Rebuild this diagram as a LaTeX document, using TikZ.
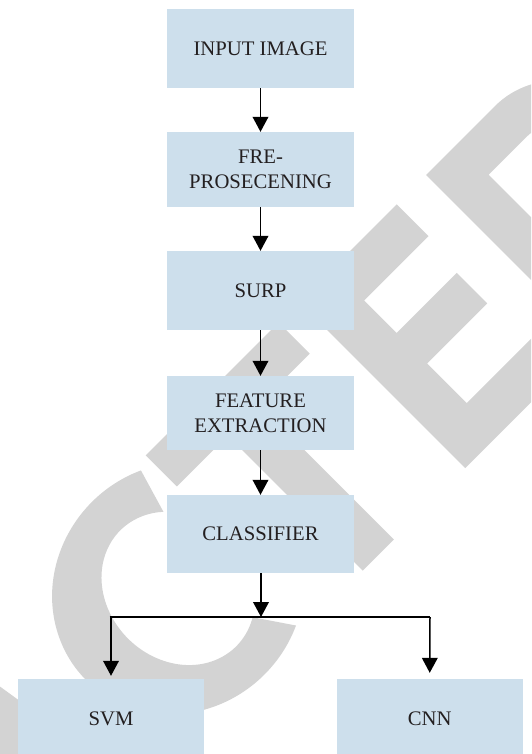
\documentclass[tikz,border=0pt]{standalone}
\usepackage{fontspec}
\setmainfont{Liberation Serif}
\usetikzlibrary{arrows.meta}
\definecolor{boxblue}{HTML}{CDDFEC}
\definecolor{wmgray}{HTML}{D3D3D3}
\definecolor{txtcol}{HTML}{231F20}
\begin{document}
\begin{tikzpicture}[x=1pt,y=1pt,
  box/.style={rectangle, fill=boxblue, minimum width=187pt, inner sep=0pt,
    font=\fontsize{20.7}{24.8}\selectfont, text=txtcol, align=center},
  arr/.style={line width=1.5pt, -{Triangle[width=15.7pt,length=15pt]}},
  bar/.style={line width=2.7pt},
  wm/.style={fill=wmgray}]
\useasboundingbox (0,0) rectangle (531,-754);
\clip (0,0) rectangle (531,-754);
\fill[white] (0,0) rectangle (531,-754);
% watermark letters (A C T E D), drawn in a frame rotated by 45 degrees
\begin{scope}[rotate=45]
  % A (right part)
  \fill[wm] (-640,-660) -- (-585,-425) -- (-495,-425) -- (-458,-660) -- cycle;
  % C
  \fill[wm] (-233,-432.3) arc[start angle=64, end angle=296, x radius=130, y radius=122]
    -- (-257.8,-615.1) arc[start angle=297, end angle=52, x radius=71, y radius=82] -- cycle;
  % T
  \fill[wm] (-219,-425) -- (-31,-425) -- (-31,-469) -- (-103,-469) -- (-103,-660)
    -- (-147,-660) -- (-147,-469) -- (-219,-469) -- cycle;
  % E
  \fill[wm] (-2,-660) -- (-2,-425) -- (136,-425) -- (136,-470) -- (45,-470) -- (45,-516)
    -- (130,-516) -- (130,-559) -- (45,-559) -- (45,-615) -- (140,-615) -- (140,-660) -- cycle;
  % D
  \fill[wm, even odd rule] (177.5,-660) -- (177.5,-425) -- (275,-425)
    arc[start angle=90, end angle=-90, x radius=100, y radius=117.5] -- cycle
    (222,-469) -- (275,-469)
    arc[start angle=90, end angle=-90, x radius=56, y radius=73.5] -- (222,-616) -- cycle;
\end{scope}
% boxes
\node[box, minimum height=79pt] (in)   at (260.5,-48.5) {INPUT IMAGE};
\node[box, minimum height=75pt] (pre)  at (260.5,-169.5) {FRE-\\PROSECENING};
\node[box, minimum height=79pt] (surp) at (260.5,-290.5) {SURP};
\node[box, minimum height=74pt] (feat) at (260.5,-413) {FEATURE\\EXTRACTION};
\node[box, minimum height=78pt] (cls)  at (260.5,-534) {CLASSIFIER};
\node[box, minimum height=79pt, minimum width=186pt] (svm) at (111,-718.5) {SVM};
\node[box, minimum height=79pt, minimum width=186pt] (cnn) at (429.7,-718.5) {CNN};
% branching bar
\coordinate (bl) at (111,-617);
\coordinate (bm) at (261,-617);
\coordinate (br) at (430,-617);
% connectors
\draw[arr] (in)   -- (pre);
\draw[arr] (pre)  -- (surp);
\draw[arr] (surp) -- (feat);
\draw[arr] (feat) -- (cls);
\draw[arr] (cls.south -| bm) -- (bm);
\draw[bar] ([xshift=-1.5pt]bl) -- (br);
\draw[arr, shorten >=3pt] (bl) -- (svm.north);
\draw[arr, shorten >=6pt] (br) -- (cnn.north);
\end{tikzpicture}
\end{document}
